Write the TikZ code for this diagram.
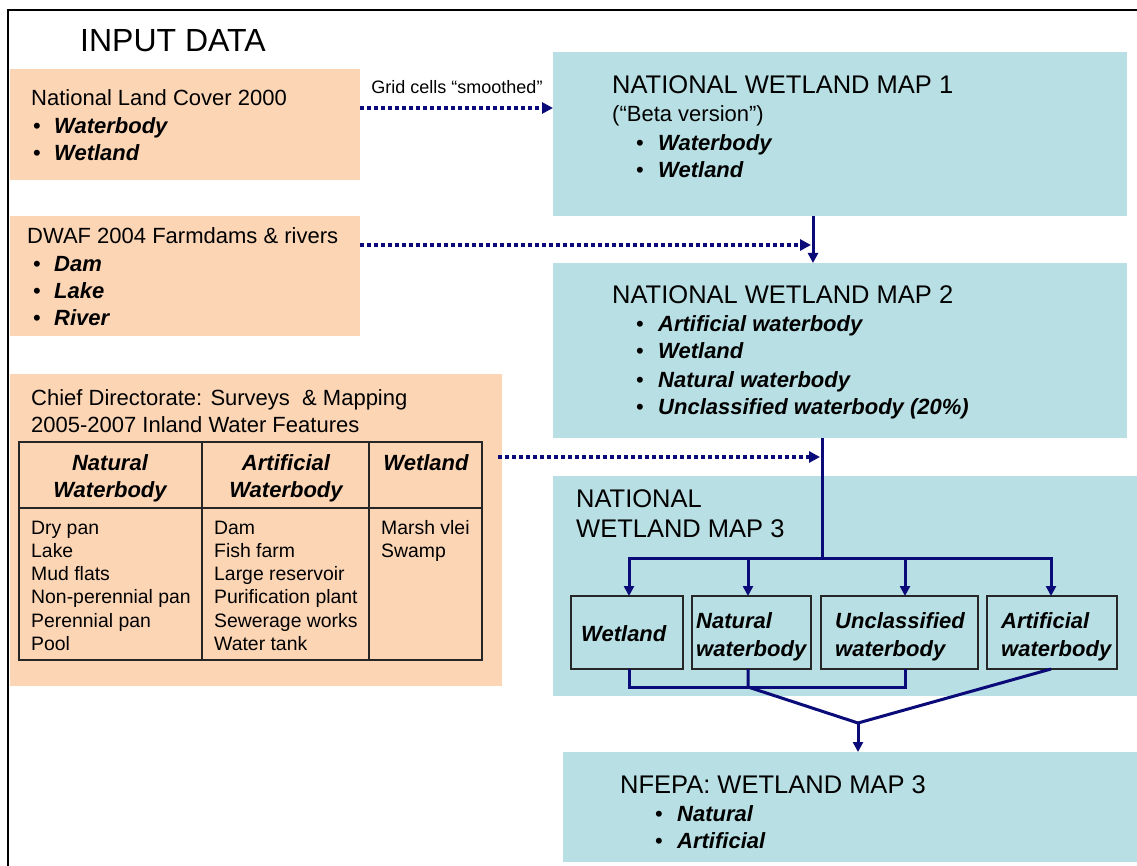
\documentclass[tikz,border=0pt]{standalone}
\usepackage{fontspec}
\setmainfont{Liberation Sans}
\usetikzlibrary{arrows.meta}
\definecolor{orangebg}{HTML}{FCD5B5}
\definecolor{tealbg}{HTML}{B8DFE3}
\definecolor{navy}{RGB}{10,10,120}
\begin{document}
\begin{tikzpicture}[x=1pt,y=-1pt,
  ob/.style={fill=orangebg,draw=none,inner sep=0,outer sep=0,anchor=north west},
  tb/.style={fill=tealbg,draw=none,inner sep=0,outer sep=0,anchor=north west},
  sbox/.style={fill=tealbg,draw=black!85,line width=1.3pt,inner sep=0,outer sep=0,anchor=north west},
  t/.style={anchor=base west,inner sep=0,font=\fontsize{22}{26}\selectfont},
  ti/.style={anchor=base west,inner sep=0,font=\fontsize{22}{26}\selectfont\bfseries\itshape},
  thc/.style={anchor=base,inner sep=0,font=\fontsize{22}{26}\selectfont\bfseries\itshape},
  mt/.style={anchor=base west,inner sep=0,font=\fontsize{25.5}{30}\selectfont},
  tbody/.style={anchor=base west,inner sep=0,font=\fontsize{19.4}{23}\selectfont},
  lbl/.style={anchor=center,inner sep=0,font=\fontsize{18}{22}\selectfont},
  conn/.style={draw=navy,line width=3pt},
  carrow/.style={conn,-{Triangle[length=10pt,width=10pt]}},
  dotarrow/.style={draw=navy,line width=3.5pt,dash pattern=on 3.5pt off 3.5pt,-{Triangle[length=11pt,width=11pt]}},
  tline/.style={draw=black!85,line width=1.5pt}
]
\useasboundingbox (0,0) rectangle (1137,866);
\fill[white] (0,0) rectangle (1137,866);
\draw[line width=2pt] (8,866) -- (8,10) -- (1137,10);

% title
\node[anchor=base west,inner sep=0,font=\fontsize{32}{37}\selectfont] (title) at (80,52) {INPUT DATA};

% input boxes
\node[ob,minimum width=350pt,minimum height=111pt] (b1) at (10,69) {};
\node[ob,minimum width=350pt,minimum height=120pt] (b2) at (10,216) {};
\node[ob,minimum width=492pt,minimum height=312pt] (b3) at (10,374) {};

\node[t] (b1t) at (31,106) {National Land Cover 2000};
\node[ti] (b1a) at (33,134) {\makebox[21pt][l]{\mdseries\upshape\textbullet}Waterbody};
\node[ti] (b1b) at (33,161) {\makebox[21pt][l]{\mdseries\upshape\textbullet}Wetland};

\node[t] (b2t) at (27,244) {DWAF 2004 Farmdams \& rivers};
\node[ti] (b2a) at (33,272) {\makebox[21pt][l]{\mdseries\upshape\textbullet}Dam};
\node[ti] (b2b) at (33,299) {\makebox[21pt][l]{\mdseries\upshape\textbullet}Lake};
\node[ti] (b2c) at (33,326) {\makebox[21pt][l]{\mdseries\upshape\textbullet}River};

\node[t] (b3t) at (31,405) {Chief Directorate: Surveys \ \& Mapping};
\node[t] (b3u) at (31,432) {2005-2007 Inland Water Features};

% table
\draw[tline] (19,442) rectangle (482,660);
\draw[tline] (19,508) -- (482,508);
\draw[tline] (202,442) -- (202,660);
\draw[tline] (369,442) -- (369,660);
\node[thc] (h1a) at (110,470) {Natural};
\node[thc] (h1b) at (110,497) {Waterbody};
\node[thc] (h2a) at (286,470) {Artificial};
\node[thc] (h2b) at (286,497) {Waterbody};
\node[thc] (h3a) at (426,470) {Wetland};
\foreach \s [count=\i] in {Dry pan,Lake,Mud flats,Non-perennial pan,Perennial pan,Pool}
  \node[tbody] (nc\i) at (31,{534+23.3*(\i-1)}) {\s};
\foreach \s [count=\i] in {Dam,Fish farm,Large reservoir,Purification plant,Sewerage works,Water tank}
  \node[tbody] (ac\i) at (214,{534+23.3*(\i-1)}) {\s};
\foreach \s [count=\i] in {Marsh vlei,Swamp}
  \node[tbody] (wc\i) at (381,{534+23.3*(\i-1)}) {\s};

% maps
\node[tb,minimum width=574pt,minimum height=164pt] (m1) at (553,52) {};
\node[tb,minimum width=574pt,minimum height=175pt] (m2) at (553,263) {};
\node[tb,minimum width=584pt,minimum height=220pt] (m3) at (553,476) {};
\node[tb,minimum width=574pt,minimum height=110pt] (nf) at (563,752) {};

\node[mt] (m1t) at (612,94) {NATIONAL WETLAND MAP 1};
\node[t] (m1u) at (612,122) {(“Beta version”)};
\node[ti] (m1a) at (636,151) {\makebox[22pt][l]{\mdseries\upshape\textbullet}Waterbody};
\node[ti] (m1b) at (636,178) {\makebox[22pt][l]{\mdseries\upshape\textbullet}Wetland};

\node[mt] (m2t) at (612,304) {NATIONAL WETLAND MAP 2};
\node[ti] (m2a) at (636,332) {\makebox[22pt][l]{\mdseries\upshape\textbullet}Artificial waterbody};
\node[ti] (m2b) at (636,359) {\makebox[22pt][l]{\mdseries\upshape\textbullet}Wetland};
\node[ti] (m2c) at (636,387) {\makebox[22pt][l]{\mdseries\upshape\textbullet}Natural waterbody};
\node[ti] (m2d) at (636,414) {\makebox[22pt][l]{\mdseries\upshape\textbullet}Unclassified waterbody (20\%)};

\node[mt] (m3t) at (576,507) {NATIONAL};
\node[mt] (m3u) at (576,537) {WETLAND MAP 3};

\node[sbox,minimum width=112pt,minimum height=73pt] (sw) at (571,596) {};
\node[sbox,minimum width=119pt,minimum height=73pt] (sn) at (692,596) {};
\node[sbox,minimum width=157pt,minimum height=73pt] (su) at (821,596) {};
\node[sbox,minimum width=130pt,minimum height=73pt] (sa) at (987,596) {};
\node[ti] (swt) at (581,641) {Wetland};
\node[ti] (snt) at (696,628) {Natural};
\node[ti] (snu) at (696,656) {waterbody};
\node[ti] (sut) at (835,628) {Unclassified};
\node[ti] (suu) at (835,656) {waterbody};
\node[ti] (sat) at (1001,628) {Artificial};
\node[ti] (sau) at (1001,656) {waterbody};

\node[mt] (nft) at (620,793) {NFEPA: WETLAND MAP 3};
\node[ti] (nfa) at (655,821) {\makebox[22pt][l]{\mdseries\upshape\textbullet}Natural};
\node[ti] (nfb) at (655,848) {\makebox[22pt][l]{\mdseries\upshape\textbullet}Artificial};

% dotted arrows
\coordinate (d1) at (553,108);
\coordinate (d2) at (811,245);
\coordinate (d3s) at (498,457);
\coordinate (d3) at (820,457);
\draw[dotarrow] (b1.east |- d1) -- (d1);
\node[lbl] (grid) at (457,87) {Grid cells “smoothed”};
\draw[dotarrow] (b2.east |- d2) -- (d2);
\draw[dotarrow] (d3s) -- (d3);

% solid connectors
\coordinate (j1) at (813,0);
\draw[carrow] (m1.south -| j1) -- (m2.north -| j1);
\coordinate (c2) at (822,558);
\coordinate (a1) at (629,558);
\coordinate (a2) at (748,558);
\coordinate (a3) at (905,558);
\coordinate (a4) at (1051,558);
\draw[conn] (m2.south -| c2) -- (c2);
\draw[conn] ([xshift=-1.5pt]a1) -- ([xshift=1.5pt]a4);
\draw[carrow] (a1) -- (a1 |- sw.north);
\draw[carrow] (a2) -- (a2 |- sn.north);
\draw[carrow] (a3) -- (a3 |- su.north);
\draw[carrow] (a4) -- (a4 |- sa.north);
\coordinate (e1) at (629,687);
\coordinate (e2) at (748,687);
\coordinate (e3) at (905,687);
\coordinate (v) at (858,723);
\draw[conn] (a1 |- sw.south) -- (e1) -- (e3) -- (a3 |- su.south);
\draw[conn] (a2 |- sn.south) -- (e2) -- (v);
\draw[conn] (a4 |- sa.south) -- (v);
\draw[carrow] (v) -- (v |- nf.north);
\end{tikzpicture}
\end{document}
